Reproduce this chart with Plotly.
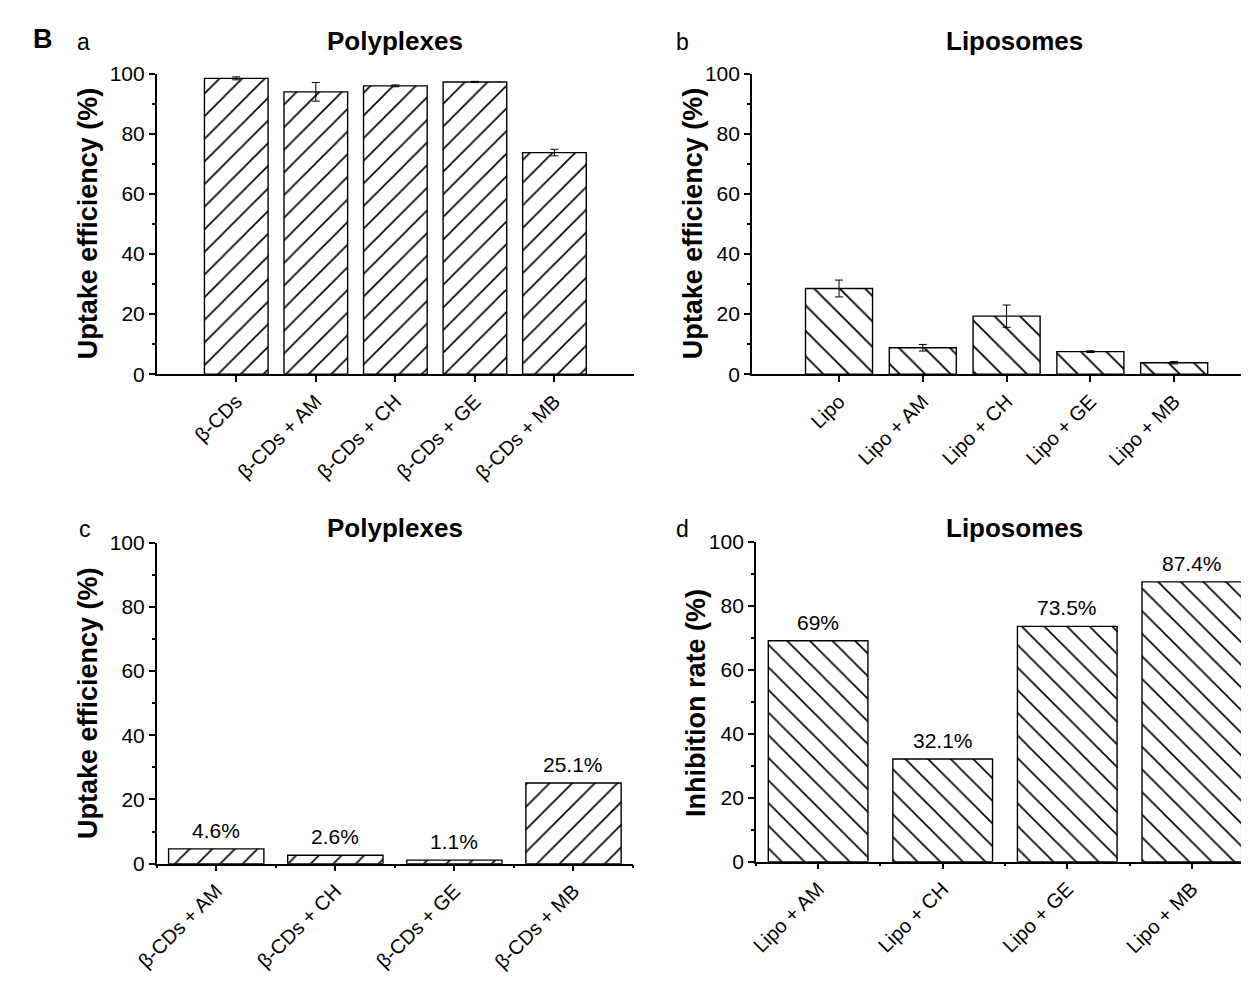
import plotly.graph_objects as go

# ---------------- data ----------------
cats_a = ["β-CDs", "β-CDs + AM", "β-CDs + CH", "β-CDs + GE", "β-CDs + MB"]
vals_a = [98.4, 93.9, 95.9, 97.2, 73.7]
errs_a = [0.5, 3.1, 0.3, 0.2, 1.1]

cats_b = ["Lipo", "Lipo + AM", "Lipo + CH", "Lipo + GE", "Lipo + MB"]
vals_b = [28.5, 8.8, 19.3, 7.5, 3.8]
errs_b = [2.8, 1.1, 3.7, 0.3, 0.4]

cats_c = ["β-CDs + AM", "β-CDs + CH", "β-CDs + GE", "β-CDs + MB"]
vals_c = [4.6, 2.6, 1.1, 25.1]

cats_d = ["Lipo + AM", "Lipo + CH", "Lipo + GE", "Lipo + MB"]
vals_d = [69, 32.1, 73.5, 87.4]

y_ticks = [0, 20, 40, 60, 80, 100]

FONT = "Liberation Sans, Arial, sans-serif"
OFF = 8                      # default page body margin
W, H = 1249 - 2 * OFF, 981 - 2 * OFF


def px_x(p):
    return min(max((p - OFF) / W, 0), 1)


def px_y(p):
    return min(max(1 - (p - OFF) / H, 0), 1)


fig = go.Figure()

RIGHT = W + OFF  # page x of figure right edge
panels = [
    # name, cats, vals, errs, shape, size, xdom(px), ydom(px top,bottom), xrange
    ("1", cats_a, vals_a, errs_a, "/", 16, (137, 623), (63, 372), [-1.0, 5.0], False),
    ("2", cats_b, vals_b, errs_b, "\\", 18, (743, RIGHT), (63, 372),
     [-1.04, 4 + (RIGHT - 1173) / 85.25], False),
    ("3", cats_c, vals_c, None, "/", 16, (137, 622), (545, 875), [-0.5, 3.5], True),
    ("4", cats_d, vals_d, None, "\\", 16, (747, RIGHT), (544, 873),
     [-0.5, 3 + (RIGHT - 1191) / 126.7], True),
]

for name, cats, vals, errs, shape, psize, xd, yd, xr, minor in panels:
    xs = list(range(len(cats)))
    xa = "x" if name == "1" else "x" + name
    ya = "y" if name == "1" else "y" + name
    tr = dict(
        x=xs, y=vals, width=0.8, xaxis=xa, yaxis=ya, showlegend=False,
        marker=dict(
            color="white",
            line=dict(color="black", width=1.4),
            pattern=dict(shape=shape, fgcolor="black", bgcolor="white",
                         size=psize, solidity=0.1, fgopacity=1),
        ),
    )
    if errs is not None:
        tr["error_y"] = dict(type="data", array=errs, color="black",
                             thickness=1, width=4)
    fig.add_trace(go.Bar(**tr))

    xkey = "xaxis" if name == "1" else "xaxis" + name
    ykey = "yaxis" if name == "1" else "yaxis" + name
    xaxis = dict(
        domain=[px_x(xd[0]), px_x(xd[1])], anchor=ya, range=xr,
        tickmode="array", tickvals=xs, ticktext=cats, tickangle=-45,
        ticks="outside", ticklen=6, tickwidth=1.5, tickcolor="black",
        showline=True, linecolor="black", linewidth=1.5,
        showgrid=False, zeroline=False,
        tickfont=dict(family=FONT, size=20, color="black"),
    )
    if minor:
        xaxis["minor"] = dict(tickmode="linear", tick0=0.5, dtick=1,
                              ticks="outside", ticklen=3, tickwidth=1.5,
                              tickcolor="black", showgrid=False)
    yaxis = dict(
        domain=[px_y(yd[1]), px_y(yd[0])], anchor=xa, range=[0, 100],
        tickmode="array", tickvals=y_ticks,
        ticks="outside", ticklen=6, tickwidth=1.5, tickcolor="black",
        minor=dict(tickmode="linear", tick0=0, dtick=10, ticks="outside",
                   ticklen=3, tickwidth=1.5, tickcolor="black", showgrid=False),
        showline=True, linecolor="black", linewidth=1.5,
        showgrid=False, zeroline=False,
        tickfont=dict(family=FONT, size=21, color="black"),
    )
    fig.layout[xkey] = xaxis
    fig.layout[ykey] = yaxis

# value labels for panels c and d
for xa, ya, vals in [("x3", "y3", vals_c), ("x4", "y4", vals_d)]:
    for i, v in enumerate(vals):
        fig.add_annotation(x=i, y=v, xref=xa, yref=ya, text=f"{v:g}%",
                           showarrow=False, yanchor="bottom", yshift=5,
                           font=dict(family=FONT, size=21, color="black"))

# panel titles
titles = [("Polyplexes", 380, 30), ("Liposomes", 1010, 30),
          ("Polyplexes", 380, 530), ("Liposomes", 1010, 530)]
for t, x, y in titles:
    fig.add_annotation(x=px_x(x), y=px_y(y), xref="paper", yref="paper",
                       text=f"<b>{t}</b>", showarrow=False,
                       xanchor="center", yanchor="middle",
                       font=dict(family=FONT, size=26, color="black"))

# panel letters
letters = [("<b>B</b>", 21, 28, 27), ("a", 62, 31, 23), ("b", 672, 31, 23),
           ("c", 64, 531, 23), ("d", 672, 531, 23)]
for t, x, y, s in letters:
    fig.add_annotation(x=px_x(x), y=px_y(y), xref="paper", yref="paper",
                       text=t, showarrow=False, xanchor="center", yanchor="middle",
                       font=dict(family=FONT, size=s, color="black"))

# y-axis titles
ytitles = [("Uptake efficiency (%)", 67, 217), ("Uptake efficiency (%)", 683, 217),
           ("Uptake efficiency (%)", 67, 710), ("Inhibition rate (%)", 686, 710)]
for t, x, y in ytitles:
    fig.add_annotation(x=px_x(x), y=px_y(y), xref="paper", yref="paper",
                       text=f"<b>{t}</b>", showarrow=False, textangle=-90,
                       xanchor="center", yanchor="middle",
                       font=dict(family=FONT, size=27, color="black"))

fig.update_layout(
    width=W, height=H, margin=dict(l=0, r=0, t=0, b=0),
    paper_bgcolor="white", plot_bgcolor="white",
    font=dict(family=FONT, color="black"),
    bargap=0.2,
)

fig.write_html("out.html")
